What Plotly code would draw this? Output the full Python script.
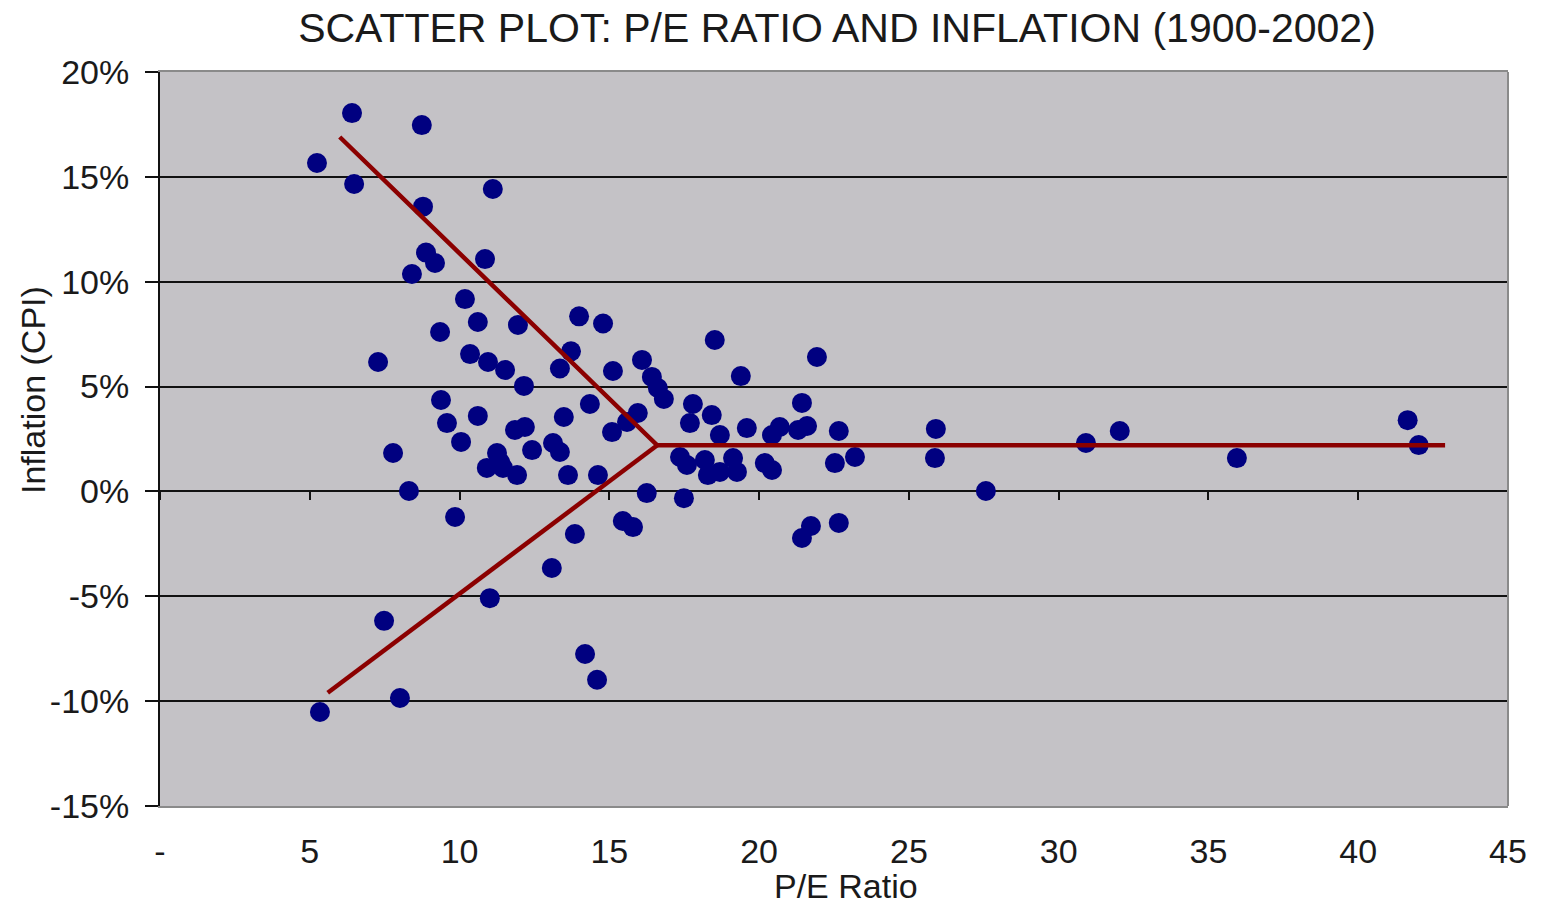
import plotly.graph_objects as go

# P/E ratio vs CPI inflation, one point per year (1900-2002)
pe_ratio = [
    5.24, 6.41, 6.48, 8.74, 8.78, 8.88, 9.18, 8.41, 7.28, 9.35,
    11.11, 10.85, 10.18, 10.61, 10.35, 10.95, 11.52, 11.95, 12.15, 9.38,
    9.58, 10.61, 10.05, 7.78, 8.31, 9.85, 11.01, 11.25, 11.35, 10.91,
    11.45, 11.92, 11.85, 12.18, 12.42, 13.12, 13.35, 13.62, 14.62, 13.35,
    13.72, 13.99, 14.79, 13.48, 14.35, 15.09, 15.12, 15.59, 15.95, 16.09,
    16.42, 16.62, 16.82, 16.25, 15.45, 15.79, 13.85, 13.08, 7.48, 8.01,
    5.34, 14.19, 14.59, 17.49, 17.36, 17.59, 17.69, 17.79, 18.42, 18.52,
    18.69, 18.19, 18.29, 18.69, 19.13, 19.26, 19.39, 19.59, 20.19, 20.43,
    20.43, 20.69, 21.30, 21.60, 21.43, 21.93, 22.53, 22.66, 23.20, 22.66,
    21.73, 21.43, 25.90, 25.87, 27.57, 30.91, 32.04, 35.95, 41.65, 42.02,
]
inflation = [
    15.66, 18.04, 14.66, 17.47, 13.58, 11.39, 10.89, 10.37, 6.17, 7.60,
    14.42, 11.08, 9.17, 8.08, 6.55, 6.17, 5.79, 7.94, 5.03, 4.36,
    3.26, 3.60, 2.36, 1.83, 0.02, -1.22, -5.09, 1.83, 1.40, 1.12,
    1.12, 0.78, 2.93, 3.07, 1.97, 2.31, 1.88, 0.78, 0.78, 5.86,
    6.68, 8.35, 8.01, 3.55, 4.17, 2.83, 5.74, 3.31, 3.74, 6.27,
    5.46, 4.93, 4.41, -0.08, -1.41, -1.70, -2.03, -3.65, -6.17, -9.85,
    -10.52, -7.75, -8.98, -0.32, 1.64, 1.26, 3.26, 4.17, 3.64, 7.22,
    2.69, 1.50, 0.78, 0.93, 1.59, 0.93, 5.50, 3.02, 1.35, 1.02,
    2.69, 3.07, 2.93, 3.12, 4.22, 6.41, 1.35, 2.88, 1.64, -1.50,
    -1.65, -2.22, 2.98, 1.59, 0.02, 2.31, 2.88, 1.59, 3.40, 2.21,
]

# hand-drawn "funnel" lines: upper arm -> vertex -> flat arm, then vertex -> lower arm
funnel_x = [6.0, 16.6, 42.9, None, 16.6, 5.6]
funnel_y = [16.9, 2.2, 2.2, None, 2.2, -9.6]

x_ticks = [0, 5, 10, 15, 20, 25, 30, 35, 40, 45]
x_tick_text = ["-", "5", "10", "15", "20", "25", "30", "35", "40", "45"]
y_ticks = [-15, -10, -5, 0, 5, 10, 15, 20]
y_tick_text = ["-15%", "-10%", "-5%", "0%", "5%", "10%", "15%", "20%"]

FONT = "Liberation Sans, Arial, sans-serif"
TEXT = "#1a1a1a"

fig = go.Figure()

fig.add_trace(go.Scatter(
    x=pe_ratio, y=inflation, mode="markers",
    marker=dict(color="#000080", size=20, line=dict(width=0)),
    showlegend=False, hoverinfo="x+y",
))

fig.add_trace(go.Scatter(
    x=funnel_x, y=funnel_y, mode="lines",
    line=dict(color="#8b0000", width=4.5),
    showlegend=False, hoverinfo="skip",
))

fig.update_layout(
    width=1550, height=906,
    paper_bgcolor="white",
    plot_bgcolor="#c4c2c6",
    font=dict(family=FONT, color=TEXT, size=34),
    margin=dict(l=160, r=42, t=72, b=100),
    title=dict(
        text="SCATTER PLOT: P/E RATIO AND INFLATION (1900-2002)",
        x=837 / 1550, xanchor="center",
        y=1 - 28 / 906, yanchor="middle",
        font=dict(size=41, color=TEXT),
    ),
    xaxis=dict(
        range=[0, 45], tickvals=x_ticks, ticktext=x_tick_text,
        showgrid=False, zeroline=False,
        showline=True, linecolor="#8a8a8a", linewidth=2, mirror=True,
        ticks="", ticklabelstandoff=14,
        tickfont=dict(size=34, color=TEXT),
    ),
    # tick marks sit on the 0% line, like the Excel original
    xaxis2=dict(
        range=[0, 45], tickvals=x_ticks, overlaying="x", anchor="free",
        position=15 / 35, side="bottom",
        showticklabels=False, showgrid=False, zeroline=False, showline=False,
        ticks="outside", ticklen=8, tickwidth=2, tickcolor="#111",
    ),
    yaxis=dict(
        range=[-15, 20], tickvals=y_ticks, ticktext=y_tick_text,
        showgrid=True, gridcolor="#111", gridwidth=1.5, zeroline=False,
        showline=True, linecolor="#111", linewidth=2,
        ticks="outside", ticklen=13, tickwidth=2, tickcolor="#111",
        ticklabelstandoff=9,
        tickfont=dict(size=34, color=TEXT),
    ),
    shapes=[
        dict(type="line", xref="paper", yref="paper", x0=1, x1=1, y0=0, y1=1,
             line=dict(color="#8a8a8a", width=2)),
    ],
    annotations=[
        dict(text="P/E Ratio", xref="paper", yref="paper",
             x=(846 - 160) / 1348, y=-(906 - 806) / 734,
             xanchor="center", yanchor="bottom", showarrow=False,
             borderpad=0, font=dict(size=34, color=TEXT)),
        dict(text="Inflation (CPI)", xref="paper", yref="paper",
             x=-(160 - 33) / 1348, y=(806 - 390) / 734,
             xanchor="center", yanchor="middle", showarrow=False,
             textangle=-90, font=dict(size=34, color=TEXT)),
    ],
)

# dummy trace so xaxis2 is rendered
fig.add_trace(go.Scatter(x=[None], y=[None], xaxis="x2", showlegend=False,
                         hoverinfo="skip"))

# drop the default body margin so the figure fills the window exactly
fig.write_html("out.html", config={"displayModeBar": False},
               post_script="document.body.style.margin='0';")
